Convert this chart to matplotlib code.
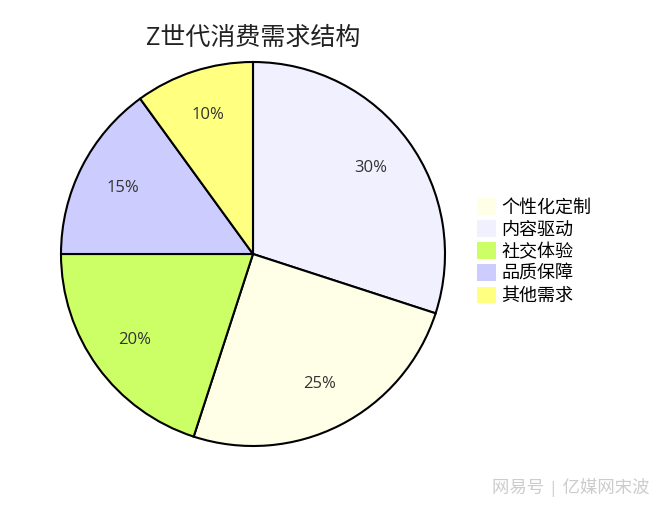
import matplotlib.pyplot as plt
from matplotlib.patches import Patch

plt.rcParams['font.family'] = ['Open Sans', 'Noto Sans CJK SC', 'DejaVu Sans']

# slices, clockwise from 12 o'clock
names = ['内容驱动', '个性化定制', '社交体验', '品质保障', '其他需求']
values = [30, 25, 20, 15, 10]
colors = ['#F0F0FF', '#FFFFE8', '#CCFF66', '#CCCCFF', '#FFFF80']

# legend shows a different order
legend_order = ['个性化定制', '内容驱动', '社交体验', '品质保障', '其他需求']

fig = plt.figure(figsize=(6.6, 5.08), dpi=100)
ax = fig.add_axes([61 / 660, 62 / 508, 384 / 660, 384 / 508])

wedges, texts, pcts = ax.pie(
    values, colors=colors, startangle=90, counterclock=False,
    autopct='%d%%', pctdistance=0.76,
    wedgeprops=dict(edgecolor='black', linewidth=1.5),
    textprops=dict(color='#333333', fontsize=12))
ax.set_xlim(-1, 1)
ax.set_ylim(-1, 1)

fig.text(253 / 660, 1 - 38 / 508, 'Z世代消费需求结构', ha='center', va='center',
         fontsize=18, color='#222222')

handles = [Patch(facecolor=colors[names.index(n)], edgecolor='none') for n in legend_order]
fig.legend(handles, legend_order, loc='upper left',
           bbox_to_anchor=(477 / 660, 1 - 198 / 508), frameon=False,
           fontsize=13, handlelength=1.05, handleheight=1.05,
           handletextpad=0.3, labelspacing=0.2, borderpad=0, borderaxespad=0)

fig.text(650 / 660, 1 - 487 / 508, '网易号 | 亿媒网宋波', ha='right', va='center',
         fontsize=12.5, color='#cccccc')

fig.savefig('out.png', dpi=100)
